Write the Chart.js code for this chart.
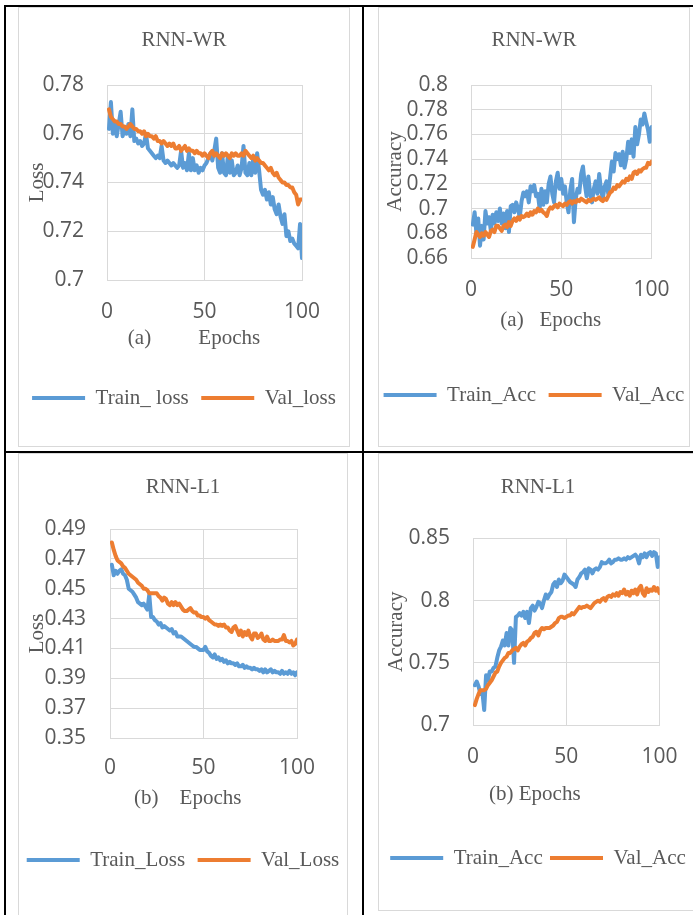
<!DOCTYPE html>
<html>
<head>
<meta charset="utf-8">
<script src="https://cdn.jsdelivr.net/npm/chart.js@4.4.1/dist/chart.umd.min.js"></script>
<style>
  html, body { margin: 0; padding: 0; background: #fff; }
  body { width: 693px; height: 915px; position: relative; overflow: hidden; }
  .rule { position: absolute; background: #000; }
  .box { position: absolute; box-sizing: border-box; border: 1px solid #d9d9d9; }
  .box canvas { display: block; }
</style>
</head>
<body>
<div class="rule" style="left:4px;top:5px;width:689px;height:2px"></div>
<div class="rule" style="left:4px;top:451px;width:689px;height:2px"></div>
<div class="rule" style="left:4px;top:5px;width:2px;height:910px"></div>
<div class="rule" style="left:362px;top:5px;width:2px;height:910px"></div>

<div class="box" style="left:18px;top:7px;width:332px;height:440px"><canvas id="wrLoss" width="330" height="438"></canvas></div>
<div class="box" style="left:378px;top:7px;width:312px;height:440px"><canvas id="wrAcc" width="310" height="438"></canvas></div>
<div class="box" style="left:18px;top:453px;width:330px;height:470px"><canvas id="l1Loss" width="328" height="461"></canvas></div>
<div class="box" style="left:378px;top:453px;width:320px;height:458px"><canvas id="l1Acc" width="318" height="456"></canvas></div>

<script>
  // Colores y fuentes al estilo Excel.
  const BLUE = '#5b9bd5';
  const ORANGE = '#ed7d31';
  const GRID = '#d9d9d9';
  const TEXT = '#595959';
  const SERIF = "'Liberation Serif', 'Times New Roman', serif";
  const SANS = "'Open Sans', sans-serif";

  const epochs = Array.from({ length: 100 }, (_, i) => i + 1);
  const epochTicks = [0, 50, 100];

  // (a) RNN-WR loss
  const wrLossTicks = [0.7, 0.72, 0.74, 0.76, 0.78];
  const wrTrainLoss = [
    0.762, 0.773, 0.760, 0.765, 0.759, 0.764, 0.769, 0.759, 0.762, 0.760,
    0.764, 0.759, 0.770, 0.757, 0.758, 0.756, 0.757, 0.755, 0.756, 0.760,
    0.754, 0.753, 0.752, 0.751, 0.750, 0.751, 0.750, 0.755, 0.749, 0.748,
    0.749, 0.748, 0.747, 0.748, 0.747, 0.746, 0.747, 0.753, 0.746, 0.748,
    0.745, 0.752, 0.745, 0.750, 0.745, 0.747, 0.744, 0.746, 0.745, 0.747,
    0.748, 0.750, 0.752, 0.749, 0.753, 0.758, 0.746, 0.744, 0.752, 0.744,
    0.743, 0.751, 0.744, 0.749, 0.743, 0.744, 0.747, 0.743, 0.746, 0.755,
    0.744, 0.743, 0.748, 0.743, 0.750, 0.744, 0.752, 0.745, 0.737, 0.735,
    0.737, 0.733, 0.736, 0.731, 0.734, 0.729, 0.727, 0.731, 0.726, 0.723,
    0.727, 0.718, 0.720, 0.716, 0.717, 0.715, 0.714, 0.713, 0.723, 0.709
  ];
  const wrValLoss = [
    0.770, 0.767, 0.766, 0.765, 0.765, 0.764, 0.764, 0.763, 0.763, 0.762,
    0.763, 0.764, 0.763, 0.762, 0.762, 0.761, 0.761, 0.760, 0.761, 0.759,
    0.760, 0.759, 0.759, 0.758, 0.759, 0.757, 0.757, 0.756, 0.757, 0.756,
    0.755, 0.756, 0.755, 0.756, 0.754, 0.754, 0.755, 0.753, 0.754, 0.755,
    0.753, 0.754, 0.753, 0.753, 0.752, 0.753, 0.752, 0.752, 0.751, 0.752,
    0.751, 0.750, 0.752, 0.753, 0.751, 0.752, 0.751, 0.750, 0.752, 0.751,
    0.752, 0.751, 0.750, 0.752, 0.751, 0.752, 0.751, 0.751, 0.752, 0.751,
    0.753, 0.752, 0.751, 0.750, 0.751, 0.749, 0.750, 0.749, 0.748, 0.748,
    0.747, 0.746, 0.745, 0.746, 0.744, 0.743, 0.744, 0.742, 0.741, 0.740,
    0.740, 0.739, 0.739, 0.738, 0.738, 0.736, 0.735, 0.731, 0.733, 0.733
  ];

  // (a) RNN-WR accuracy
  const wrAccTicks = [0.66, 0.68, 0.7, 0.72, 0.74, 0.76, 0.78, 0.8];
  const wrTrainAcc = [
    0.687, 0.697, 0.680, 0.692, 0.670, 0.686, 0.675, 0.698, 0.688, 0.693,
    0.682, 0.695, 0.688, 0.697, 0.690, 0.700, 0.688, 0.696, 0.684, 0.698,
    0.681, 0.702, 0.703, 0.697, 0.705, 0.700, 0.693, 0.706, 0.713, 0.710,
    0.714, 0.705, 0.718, 0.714, 0.719, 0.710, 0.712, 0.700, 0.716, 0.703,
    0.714, 0.705, 0.720, 0.726, 0.712, 0.705, 0.722, 0.729, 0.716, 0.724,
    0.712, 0.718, 0.705, 0.697, 0.715, 0.724, 0.689, 0.708, 0.716, 0.713,
    0.728, 0.734, 0.720, 0.710, 0.726, 0.712, 0.705, 0.716, 0.722, 0.712,
    0.728, 0.715, 0.708, 0.718, 0.722, 0.712, 0.725, 0.738, 0.730, 0.745,
    0.740, 0.744, 0.735, 0.746, 0.733, 0.740, 0.754, 0.745, 0.756, 0.742,
    0.766, 0.752, 0.760, 0.772, 0.768, 0.777, 0.770, 0.764, 0.754, 0.766
  ];
  const wrValAcc = [
    0.669, 0.675, 0.681, 0.679, 0.677, 0.680, 0.678, 0.681, 0.679, 0.677,
    0.682, 0.683, 0.681, 0.686, 0.686, 0.684, 0.682, 0.686, 0.687, 0.685,
    0.689, 0.686, 0.690, 0.692, 0.690, 0.693, 0.691, 0.694, 0.693, 0.694,
    0.696, 0.694, 0.697, 0.695, 0.698, 0.697, 0.700, 0.698, 0.699, 0.697,
    0.696, 0.694, 0.699, 0.701, 0.700, 0.702, 0.703, 0.701, 0.704, 0.703,
    0.702, 0.704, 0.703, 0.705, 0.706, 0.704, 0.706, 0.705, 0.707, 0.706,
    0.708, 0.707, 0.706, 0.705, 0.707, 0.706, 0.707, 0.708, 0.707, 0.708,
    0.709, 0.707, 0.706, 0.708, 0.707, 0.710, 0.713, 0.714, 0.717, 0.716,
    0.719, 0.718, 0.720, 0.722, 0.721, 0.724, 0.723, 0.726, 0.724, 0.729,
    0.730, 0.728, 0.731, 0.730, 0.732, 0.733, 0.733, 0.737, 0.736, 0.738
  ];

  // (b) RNN-L1 loss
  const l1LossTicks = [0.35, 0.37, 0.39, 0.41, 0.43, 0.45, 0.47, 0.49];
  const l1TrainLoss = [
    0.466, 0.459, 0.462, 0.460, 0.462, 0.463, 0.460, 0.459, 0.456, 0.450,
    0.449, 0.448, 0.446, 0.444, 0.441, 0.440, 0.439, 0.440, 0.438, 0.436,
    0.446, 0.431, 0.431, 0.429, 0.428, 0.426, 0.427, 0.424, 0.425, 0.424,
    0.423, 0.422, 0.423, 0.420, 0.421, 0.418, 0.418, 0.418, 0.417, 0.416,
    0.415, 0.414, 0.413, 0.412, 0.411, 0.411, 0.410, 0.409, 0.409, 0.409,
    0.411, 0.408, 0.407, 0.405, 0.404, 0.406, 0.403, 0.404, 0.402, 0.403,
    0.401, 0.402, 0.400, 0.401, 0.400, 0.400, 0.399, 0.400, 0.398, 0.398,
    0.399, 0.397, 0.398, 0.397, 0.397, 0.396, 0.397, 0.396, 0.396, 0.395,
    0.396, 0.394, 0.396, 0.394, 0.395, 0.396, 0.394, 0.395, 0.394, 0.394,
    0.393, 0.395, 0.393, 0.394, 0.393, 0.395, 0.393, 0.394, 0.392, 0.394
  ];
  const l1ValLoss = [
    0.481, 0.476, 0.472, 0.469, 0.468, 0.467, 0.465, 0.464, 0.462, 0.460,
    0.459, 0.458, 0.457, 0.456, 0.454, 0.453, 0.452, 0.450, 0.450, 0.449,
    0.447, 0.447, 0.447, 0.447, 0.447, 0.445, 0.444, 0.442, 0.444, 0.443,
    0.440, 0.439, 0.441, 0.439, 0.441, 0.439, 0.440, 0.438, 0.436, 0.435,
    0.435, 0.436, 0.437, 0.435, 0.434, 0.434, 0.432, 0.432, 0.431, 0.431,
    0.430, 0.431, 0.429, 0.428, 0.427, 0.426, 0.426, 0.425, 0.426, 0.425,
    0.426, 0.424, 0.424, 0.422, 0.421, 0.424, 0.425, 0.422, 0.419, 0.422,
    0.418, 0.421, 0.419, 0.422, 0.418, 0.416, 0.420, 0.420, 0.417, 0.418,
    0.420, 0.416, 0.415, 0.418, 0.415, 0.415, 0.416, 0.415, 0.415, 0.415,
    0.416, 0.416, 0.419, 0.415, 0.415, 0.414, 0.415, 0.412, 0.413, 0.416
  ];

  // (b) RNN-L1 accuracy
  const l1AccTicks = [0.7, 0.75, 0.8, 0.85];
  const l1TrainAcc = [
    0.732, 0.735, 0.731, 0.725, 0.727, 0.712, 0.740, 0.736, 0.743, 0.743,
    0.746, 0.747, 0.754, 0.760, 0.763, 0.768, 0.764, 0.774, 0.764, 0.778,
    0.776, 0.750, 0.787, 0.788, 0.790, 0.788, 0.791, 0.786, 0.791, 0.782,
    0.794, 0.796, 0.792, 0.795, 0.799, 0.798, 0.794, 0.800, 0.805, 0.802,
    0.805, 0.807, 0.813, 0.815, 0.811, 0.817, 0.814, 0.816, 0.821, 0.819,
    0.817, 0.815, 0.814, 0.813, 0.811, 0.817, 0.819, 0.822, 0.823, 0.825,
    0.818, 0.826, 0.825, 0.822, 0.825, 0.826, 0.825, 0.827, 0.831, 0.830,
    0.830, 0.831, 0.833, 0.830, 0.831, 0.833, 0.833, 0.834, 0.833, 0.833,
    0.834, 0.833, 0.835, 0.834, 0.835, 0.836, 0.837, 0.835, 0.830, 0.837,
    0.835, 0.838, 0.835, 0.838, 0.839, 0.836, 0.839, 0.838, 0.827, 0.835
  ];
  const l1ValAcc = [
    0.716, 0.721, 0.725, 0.728, 0.728, 0.728, 0.729, 0.732, 0.734, 0.736,
    0.739, 0.742, 0.743, 0.747, 0.750, 0.752, 0.754, 0.755, 0.758, 0.758,
    0.760, 0.761, 0.762, 0.760, 0.763, 0.765, 0.766, 0.764, 0.767, 0.768,
    0.770, 0.771, 0.774, 0.775, 0.772, 0.776, 0.778, 0.777, 0.778, 0.778,
    0.778, 0.779, 0.780, 0.782, 0.783, 0.786, 0.787, 0.787, 0.786, 0.787,
    0.788, 0.788, 0.790, 0.789, 0.791, 0.793, 0.795, 0.794, 0.795, 0.795,
    0.796, 0.795, 0.794, 0.796, 0.798, 0.799, 0.800, 0.799, 0.801, 0.802,
    0.800, 0.803, 0.804, 0.803, 0.805, 0.804, 0.806, 0.804, 0.807, 0.806,
    0.809, 0.805, 0.807, 0.804, 0.808, 0.806, 0.809, 0.805, 0.810, 0.812,
    0.806, 0.804, 0.810, 0.807, 0.809, 0.808, 0.811, 0.808, 0.810, 0.806
  ];

  function lineSet(label, data, color, order) {
    return {
      label: label,
      data: data,
      borderColor: color,
      backgroundColor: color,
      pointBorderColor: color,
      pointBackgroundColor: color,
      borderWidth: 4,
      pointBorderWidth: 4,
      pointRadius: 0,
      pointHoverRadius: 0,
      borderJoinStyle: 'round',
      borderCapStyle: 'round',
      tension: 0,
      order: order
    };
  }

  function fixTicks(values) {
    return function (scale) {
      scale.ticks = values.map(function (v) { return { value: v }; });
    };
  }

  function makeChart(id, cfg) {
    const serif = { family: SERIF, size: 21, weight: 'normal' };
    const sans = { family: SANS, size: 21 };
    new Chart(document.getElementById(id), {
      type: 'line',
      data: {
        labels: epochs,
        datasets: [
          lineSet(cfg.trainLabel, cfg.train, BLUE, 1),
          lineSet(cfg.valLabel, cfg.val, ORANGE, 0)
        ]
      },
      options: {
        responsive: false,
        animation: false,
        events: [],
        layout: { padding: { left: 0, right: 0, top: 0, bottom: cfg.bottom } },
        plugins: {
          title: {
            display: true,
            text: cfg.title,
            color: TEXT,
            font: serif,
            padding: cfg.titlePad
          },
          legend: {
            position: 'bottom',
            labels: {
              usePointStyle: true,
              pointStyle: 'line',
              pointStyleWidth: 53,
              color: TEXT,
              font: serif,
              padding: 2,
              sort: function (a, b) { return a.datasetIndex - b.datasetIndex; }
            }
          },
          tooltip: { enabled: false }
        },
        scales: {
          x: {
            type: 'linear',
            min: 0,
            max: 100,
            afterBuildTicks: fixTicks(epochTicks),
            afterFit: function (s) { s.height = cfg.xHeight; },
            grid: { color: GRID, drawTicks: false },
            border: { color: GRID },
            ticks: { color: TEXT, font: sans, padding: cfg.xTickPad, maxRotation: 0, autoSkip: false },
            title: {
              display: true,
              text: cfg.xTitle,
              color: TEXT,
              font: serif,
              padding: { top: 0, bottom: cfg.xTitlePad }
            }
          },
          y: {
            type: 'linear',
            min: cfg.yTicks[0],
            max: cfg.yTicks[cfg.yTicks.length - 1],
            afterBuildTicks: fixTicks(cfg.yTicks),
            afterFit: function (s) { s.width = cfg.yWidth; },
            grid: { color: GRID, drawTicks: false },
            border: { color: GRID },
            ticks: {
              color: TEXT,
              font: sans,
              padding: cfg.yTickPad,
              autoSkip: false,
              callback: function (v) { return String(Math.round(v * 100) / 100); }
            },
            title: {
              display: true,
              text: cfg.yTitle,
              color: TEXT,
              font: serif,
              padding: { top: cfg.yTitlePad, bottom: 0 }
            }
          },
          // Eje vacío a la derecha: solo reserva el margen del área de trazado.
          yRight: {
            type: 'linear',
            position: 'right',
            grid: { display: false },
            border: { display: false },
            ticks: { display: false },
            afterFit: function (s) { s.width = cfg.rightWidth; }
          }
        }
      }
    });
  }

  makeChart('wrLoss', {
    title: 'RNN-WR', yTitle: 'Loss', xTitle: '(a)         Epochs    ',
    trainLabel: 'Train_ loss  ', valLabel: 'Val_loss',
    train: wrTrainLoss, val: wrValLoss, yTicks: wrLossTicks,
    titlePad: { top: 19.4, bottom: 32.4 }, yWidth: 88, rightWidth: 47, bottom: 27.5,
    xHeight: 105.5, xTickPad: 19.4, xTitlePad: 34.9, yTickPad: 23, yTitlePad: 5.4
  });

  makeChart('wrAcc', {
    title: 'RNN-WR', yTitle: 'Accuracy', xTitle: '(a)   Epochs    ',
    trainLabel: 'Train_Acc  ', valLabel: 'Val_Acc',
    train: wrTrainAcc, val: wrValAcc, yTicks: wrAccTicks,
    titlePad: { top: 19.4, bottom: 32.4 }, yWidth: 92, rightWidth: 32, bottom: 30.5,
    xHeight: 124.5, xTickPad: 19.4, xTitlePad: 49.9, yTickPad: 23, yTitlePad: 3.4
  });

  makeChart('l1Loss', {
    title: 'RNN-L1', yTitle: 'Loss', xTitle: '(b)    Epochs      ',
    trainLabel: 'Train_Loss  ', valLabel: 'Val_Loss',
    train: l1TrainLoss, val: l1ValLoss, yTicks: l1LossTicks,
    titlePad: { top: 20.4, bottom: 29.4 }, yWidth: 91, rightWidth: 50, bottom: 34.5,
    xHeight: 109.5, xTickPad: 17.4, xTitlePad: 36.9, yTickPad: 24, yTitlePad: 5.4
  });

  makeChart('l1Acc', {
    title: 'RNN-L1', yTitle: 'Accuracy', xTitle: '(b) Epochs            ',
    trainLabel: 'Train_Acc ', valLabel: 'Val_Acc',
    train: l1TrainAcc, val: l1ValAcc, yTicks: l1AccTicks,
    titlePad: { top: 20.4, bottom: 38.9 }, yWidth: 94, rightWidth: 36, bottom: 31.5,
    xHeight: 120.5, xTickPad: 19.4, xTitlePad: 38.9, yTickPad: 23, yTitlePad: 4.4
  });
</script>
</body>
</html>
